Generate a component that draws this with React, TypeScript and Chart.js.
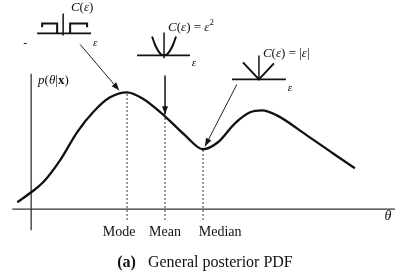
import React, { useEffect, useRef } from "react";
import { Chart, registerables } from "chart.js";

Chart.register(...registerables);

// Posterior PDF curve p(θ|x)
const thetaCurve = [-0.58, 0, 0.5, 1.21, 1.92, 2.58, 3.29, 4.0, 4.63, 5.58, 6.42, 7.17, 7.79, 8.5, 9.13, 9.63, 10.25, 11.5, 12.58, 13.5];
const pdfCurve = [0.06, 0.145, 0.23, 0.42, 0.66, 0.83, 0.957, 1.0, 0.949, 0.795, 0.632, 0.513, 0.573, 0.735, 0.829, 0.846, 0.803, 0.632, 0.479, 0.35];

// Estimators on the θ axis
const markerLabels = ["Mode", "Mean", "Median"];
const markerTheta = [4.0, 5.58, 7.17];
const markerPdf = [1.0, 0.795, 0.513];
const markerLabelTheta = [3.67, 5.58, 7.88];

// Axes extents
const xAxisRange = [-0.79, 15.17];
const yAxisRange = [-0.18, 1.16];

// Cost function icons (ε, C) drawn in plot units
const stepLeftX = [0.458, 0.458, 1.083, 1.083];
const stepLeftY = [1.556, 1.59, 1.59, 1.504];
const stepRightX = [1.625, 1.625, 2.333, 2.333];
const stepRightY = [1.504, 1.59, 1.59, 1.556];
const stepBaseX = [0.25, 2.5];
const stepBaseY = 1.504;
const stepAxisX = 1.333;
const stepAxisY = [1.487, 1.675];

const quadX = [5.042, 5.167, 5.292, 5.417, 5.542, 5.667, 5.792, 5.917, 6.042];
const quadY = [1.478, 1.407, 1.357, 1.326, 1.316, 1.326, 1.357, 1.407, 1.478];
const quadBaseX = [4.417, 6.625];
const quadBaseY = 1.316;
const quadAxisX = 5.542;
const quadAxisY = [1.291, 1.513];

const absX = [8.833, 9.5, 10.125];
const absY = [1.256, 1.111, 1.248];
const absBaseX = [8.375, 10.625];
const absBaseY = 1.111;
const absAxisX = 9.5;
const absAxisY = [1.103, 1.316];

// Arrows from cost icons to the estimators
const arrowStartX = [2.04, 5.583, 8.58];
const arrowStartY = [1.41, 1.145, 1.068];
const arrowTipX = [3.67, 5.583, 7.25];
const arrowTipY = [1.017, 0.812, 0.538];
const arrowWidths = [1, 1.6, 1];

const SERIF = '"Liberation Serif", "DejaVu Serif", serif';

function seg(x: number[], y: number[]) {
  return x.map((v, i) => ({ x: v, y: y[i] }));
}

function lineDs(data: { x: number; y: number }[], width: number, color: string, dash: number[] = []) {
  return {
    data,
    showLine: true,
    borderColor: color,
    borderWidth: width,
    borderDash: dash,
    pointRadius: 0,
    fill: false,
    tension: 0,
  };
}

type Piece = [string, string, number?];

function drawRich(ctx: CanvasRenderingContext2D, pieces: Piece[], x: number, y: number, align: "left" | "center") {
  let total = 0;
  for (const [t, f] of pieces) {
    ctx.font = f;
    total += ctx.measureText(t).width;
  }
  let cx = align === "center" ? x - total / 2 : x;
  ctx.textBaseline = "middle";
  ctx.textAlign = "left";
  for (const [t, f, dy] of pieces) {
    ctx.font = f;
    ctx.fillText(t, cx, y + (dy || 0));
    cx += ctx.measureText(t).width;
  }
}

const labelsPlugin = {
  id: "labelsPlugin",
  afterDatasetsDraw(chart: any) {
    const { ctx, scales } = chart;
    const X = (v: number) => scales.x.getPixelForValue(v);
    const Y = (v: number) => scales.y.getPixelForValue(v);
    ctx.save();
    ctx.fillStyle = "#111";

    // arrow heads
    for (let i = 0; i < arrowTipX.length; i++) {
      const sx = X(arrowStartX[i]), sy = Y(arrowStartY[i]);
      const tx = X(arrowTipX[i]), ty = Y(arrowTipY[i]);
      const len = Math.hypot(tx - sx, ty - sy);
      const ux = (tx - sx) / len, uy = (ty - sy) / len;
      const L = 8, W = 3;
      ctx.beginPath();
      ctx.moveTo(tx, ty);
      ctx.lineTo(tx - ux * L - uy * W, ty - uy * L + ux * W);
      ctx.lineTo(tx - ux * L + uy * W, ty - uy * L - ux * W);
      ctx.closePath();
      ctx.fill();
    }

    const it = (s: number) => `italic ${s}px ${SERIF}`;
    const rm = (s: number) => `${s}px ${SERIF}`;
    const bd = (s: number) => `bold ${s}px ${SERIF}`;

    // y axis label
    drawRich(ctx, [["p", it(13)], ["(", rm(13)], ["θ", it(13)], ["|", rm(13)], ["x", bd(13)], [")", rm(13)]], X(0.29), Y(1.103), "left");

    // cost function labels
    drawRich(ctx, [["C", it(13)], ["(", rm(13)], ["ε", it(13)], [")", rm(13)]], X(2.125), Y(1.726), "center");
    drawRich(ctx, [["C", it(13)], ["(", rm(13)], ["ε", it(13)], [")", rm(13)], [" = ", rm(13)], ["ε", it(13)], ["2", rm(9), -5]], X(5.708), Y(1.556), "left");
    drawRich(ctx, [["C", it(13)], ["(", rm(13)], ["ε", it(13)], [")", rm(13)], [" = ", rm(13)], ["|", rm(13)], ["ε", it(13)], ["|", rm(13)]], X(9.667), Y(1.333), "left");
    drawRich(ctx, [["ε", it(11)]], X(2.667), Y(1.419), "center");
    drawRich(ctx, [["ε", it(11)]], X(6.792), Y(1.248), "center");
    drawRich(ctx, [["ε", it(11)]], X(10.79), Y(1.034), "center");
    drawRich(ctx, [["-", rm(12)]], X(-0.25), Y(1.419), "center");

    // estimator labels
    for (let i = 0; i < markerLabels.length; i++) {
      drawRich(ctx, [[markerLabels[i], rm(14)]], X(markerLabelTheta[i]), Y(-0.197), "center");
    }
    drawRich(ctx, [["θ", it(14)]], X(14.875), Y(-0.06), "center");

    // caption
    drawRich(ctx, [["(a)", bd(16)], ["   General posterior PDF", rm(16)]], X(7.25), Y(-0.462), "center");
    ctx.restore();
  },
};

export default function App() {
  const ref = useRef<HTMLCanvasElement>(null);
  useEffect(() => {
    if (!ref.current) return;
    const black = "#111";
    const datasets: any[] = [
      {
        ...lineDs(seg(thetaCurve, pdfCurve), 2.3, black),
        cubicInterpolationMode: "monotone",
      },
      lineDs(seg(xAxisRange, [0, 0]), 1.3, "#333"),
      lineDs(seg([0, 0], yAxisRange), 1.3, "#333"),
    ];
    for (let i = 0; i < markerTheta.length; i++) {
      datasets.push(lineDs(seg([markerTheta[i], markerTheta[i]], [-0.09, markerPdf[i]]), 1.2, "#222", [1.5, 2.5]));
    }
    // icons
    datasets.push(lineDs(seg(stepLeftX, stepLeftY), 2, black));
    datasets.push(lineDs(seg(stepRightX, stepRightY), 2, black));
    datasets.push(lineDs(seg(stepBaseX, [stepBaseY, stepBaseY]), 1.8, black));
    datasets.push(lineDs(seg([stepAxisX, stepAxisX], stepAxisY), 1.5, black));
    datasets.push({ ...lineDs(seg(quadX, quadY), 2, black), tension: 0.4 });
    datasets.push(lineDs(seg(quadBaseX, [quadBaseY, quadBaseY]), 1.8, black));
    datasets.push(lineDs(seg([quadAxisX, quadAxisX], quadAxisY), 1.5, black));
    datasets.push(lineDs(seg(absX, absY), 2, black));
    datasets.push(lineDs(seg(absBaseX, [absBaseY, absBaseY]), 1.8, black));
    datasets.push(lineDs(seg([absAxisX, absAxisX], absAxisY), 1.5, black));
    // arrow shafts
    for (let i = 0; i < arrowTipX.length; i++) {
      datasets.push(lineDs(seg([arrowStartX[i], arrowTipX[i]], [arrowStartY[i], arrowTipY[i]]), arrowWidths[i], "#222"));
    }

    const chart = new Chart(ref.current, {
      type: "scatter",
      data: { datasets },
      options: {
        animation: false,
        responsive: false,
        maintainAspectRatio: false,
        layout: { padding: 0 },
        events: [],
        plugins: { legend: { display: false }, tooltip: { enabled: false } },
        scales: {
          x: { type: "linear", min: -1.3, max: 15.55, display: false },
          y: { type: "linear", min: -0.58, max: 1.79, display: false },
        },
      },
      plugins: [labelsPlugin],
    });
    return () => chart.destroy();
  }, []);

  return (
    <div style={{ position: "fixed", left: 0, top: 0, width: 404, height: 277, background: "#fff" }}>
      <canvas ref={ref} width={404} height={277} style={{ display: "block" }} />
    </div>
  );
}
